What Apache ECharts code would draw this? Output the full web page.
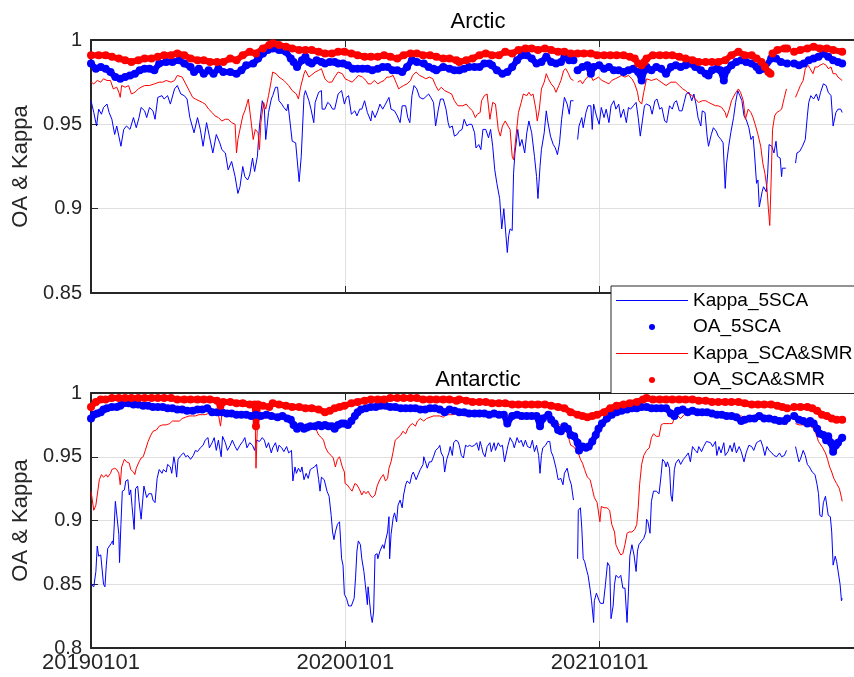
<!DOCTYPE html>
<html>
<head>
<meta charset="utf-8">
<script src="https://cdn.jsdelivr.net/npm/echarts@6/dist/echarts.min.js"></script>
<style>
html, body { margin: 0; padding: 0; background: #fff; }
#chart { width: 854px; height: 677px; }
</style>
</head>
<body>
<div id="chart"></div>
<script>
// x = days since 2019-01-01, y = score; '-' marks a break in the record
const tickDays = [0, 365, 731, 1096];
const tickLabels = ['20190101', '20200101', '20210101', '20220101'];
const panelTitles = ['Arctic', 'Antarctic'];
const seriesNames = ['Kappa_5SCA', 'OA_5SCA', 'Kappa_SCA&SMR', 'OA_SCA&SMR'];

// ---- Arctic ----
const arcKappa5SCA = [[0,.964],[4,.957],[8,.949],[11,.959],[15,.956],[18,.960],[23,.962],[26,.957],[30,.953],[34,.944],[37,.949],[40,.943],[43,.937],[47,.947],[51,.949],[56,.947],[61,.954],[65,.948],[69,.954],[72,.960],[77,.958],[80,.954],[84,.960],[89,.958],[92,.953],[96,.966],[102,.967],[105,.965],[110,.967],[114,.962],[120,.971],[124,.973],[129,.968],[134,.967],[138,.965],[142,.954],[148,.945],[153,.954],[157,.947],[161,.937],[166,.951],[170,.943],[175,.933],[180,.944],[185,.939],[188,.935],[193,.933],[197,.923],[202,.928],[207,.919],[211,.909],[214,.913],[218,.925],[221,.919],[225,.917],[228,.920],[232,.930],[235,.922],[239,.931],[242,.949],[246,.964],[249,.959],[251,.941],[255,.957],[259,.965],
[261,.967],[265,.972],[268,.972],[270,.964],[274,.962],[277,.960],[281,.958],[283,.962],[289,.940],[294,.939],[299,.916],[302,.931],[306,.967],[308,.970],[313,.964],[316,.959],[320,.951],[322,.963],[327,.969],[331,.970],[332,.959],[336,.959],[340,.963],[343,.962],[347,.959],[350,.959],[355,.968],[360,.970],[364,.962],[367,.966],[370,.967],[374,.956],[379,.958],[382,.955],[386,.959],[389,.959],[393,.964],[397,.957],[402,.952],[404,.958],[408,.954],[412,.958],[415,.962],[419,.959],[423,.962],[428,.966],[431,.959],[436,.958],[440,.955],[444,.951],[447,.961],[452,.961],[455,.954],[458,.951],[461,.967],[464,.973],[468,.971],[472,.966],[477,.965],[480,.966],[485,.968],[488,.966],[492,.963],[495,.949],[499,.959],[502,.965],[506,.965],[510,.959],[513,.951],[515,.948],[519,.949],[522,.943],[526,.944],
[529,.946],[533,.947],[536,.953],[540,.949],[543,.950],[547,.950],[551,.945],[553,.936],[557,.938],[560,.935],[563,.947],[567,.947],[571,.942],[574,.947],[577,.937],[580,.923],[583,.915],[587,.906],[590,.888],[593,.900],[595,.899],[598,.874],[600,.884],[602,.888],[605,.887],[607,.921],[609,.933],[613,.947],[616,.937],[619,.941],[623,.933],[626,.945],[629,.952],[633,.945],[637,.931],[640,.919],[642,.906],[645,.925],[647,.935],[651,.945],[654,.958],[656,.952],[660,.943],[664,.938],[667,.936],[670,.932],[673,.939],[676,.953],[680,.966],[684,.962],[687,.956],[689,.964],[693,.964],[696,'-'],[699,.941],[701,.949],[705,.954],[707,.948],[711,.957],[714,.961],[718,.961],[720,.947],[722,.962],[726,.955],[730,.950],[733,.960],[737,.954],[740,.959],[744,.951],[747,.961],[751,.964],[754,.959],[758,.962],[761,.954],[765,.959],[769,.951],[772,.960],[775,.959],[779,.961],[783,.963],[786,.954],[789,.943],[792,.952],[795,.961],
[798,.962],[803,.961],[806,.956],[810,.964],[813,.965],[817,.959],[820,.960],[824,.952],[827,.951],[831,.961],[835,.959],[838,.963],[841,.964],[845,.958],[849,.958],[852,.963],[855,.968],[859,.969],[863,.964],[866,.968],[869,.962],[872,.954],[876,.949],[878,.958],[882,.957],[885,.943],[887,.937],[891,.944],[894,.948],[898,.946],[901,.943],[905,.941],[908,.939],[911,.912],[913,.927],[916,.937],[919,.945],[923,.954],[926,.963],[929,.970],[932,.967],[935,.964],[938,.955],[941,.953],[945,.948],[948,.941],[951,.943],[953,.933],[956,.915],[958,.917],[960,.901],[964,.910],[966,.913],[970,.910],[972,.921],[974,.938],[978,.937],[981,.933],[984,.940],[986,.931],[990,.930],[992,.919],[993,.924],[998,.924],[1004,'-'],[1012,.927],[1014,.933],[1018,.934],[1022,.937],[1026,.941],[1029,.955],[1031,.963],[1034,.967],[1038,.965],[1042,.968],[1045,.964],[1048,.969],[1052,.974],[1056,.973],[1059,.969],[1063,.967],[1066,.949],[1070,.957],[1073,.959],[1077,.959],[1079,.957]];

const arcOA5SCA = [[0,.986],[7,.983],[14,.984],[21,.983],[28,.981],[35,.978],[42,.977],[49,.978],[56,.979],[63,.980],[70,.982],[77,.983],[84,.983],[91,.982],[98,.986],[108,.987],[117,.987],[127,.988],[134,.986],[143,.984],[148,.981],[155,.983],[162,.980],[169,.982],[176,.980],[183,.983],[190,.981],[200,.981],[209,.980],[216,.982],[223,.985],[233,.986],[240,.989],[247,.992],[254,.994],[261,.995],[270,.994],[280,.993],[287,.989],[291,.987],[296,.984],[303,.988],[308,.990],[313,.987],[317,.986],[324,.988],[331,.987],[336,.986],[343,.987],[350,.987],[355,.986],[362,.986],[369,.985],[376,.983],[383,.983],[390,.983],[397,.983],[404,.982],[412,.983],[419,.984],[426,.984],[433,.982],[440,.982],[447,.981],[454,.984],[461,.988],[468,.987],[478,.986],[485,.984],[492,.983],[496,.982],[506,.984],[515,.983],[522,.982],[529,.982],[536,.983],[543,.984],[551,.984],[558,.984],[565,.986],[572,.986],[576,.985],[583,.982],[591,.980],[598,.981],[605,.984],[612,.988],[619,.991],[626,.991],[633,.989],[640,.986],[647,.987],[654,.990],[661,.987],[668,.986],[675,.987],[680,.990],[687,.988],[693,.988],[696,'-'],[699,.982],[706,.984],[713,.985],[718,.980],[722,.984],[730,.985],[737,.983],[744,.984],[751,.982],[758,.982],[765,.981],[772,.982],[779,.983],[786,.981],[791,.976],[795,.982],[798,.984],[805,.982],[812,.984],[819,.983],[826,.980],[833,.984],[840,.985],[847,.984],[854,.985],[861,.986],[868,.984],[876,.982],[883,.980],[887,.979],[892,.982],[899,.983],[904,.982],[909,.976],[913,.982],[920,.985],[927,.987],[934,.988],[941,.987],[949,.986],[956,.984],[960,.982],[967,.983],[977,.989],[984,.989],[991,.987],[1000,.986],[1005,'-'],[1010,.986],[1017,.985],[1024,.986],[1031,.988],[1038,.989],[1045,.990],[1052,.992],[1059,.990],[1066,.988],[1073,.987],[1079,.986]];

const arcKappaSCASMR = [[0,.975],[4,.974],[9,.976],[14,.975],[18,.977],[23,.976],[28,.976],[32,.971],[37,.972],[40,.969],[42,.966],[44,.973],[49,.972],[54,.973],[58,.968],[63,.969],[68,.971],[72,.972],[77,.973],[84,.973],[91,.974],[98,.975],[103,.975],[108,.976],[115,.975],[120,.976],[124,.979],[131,.978],[136,.974],[141,.970],[146,.966],[150,.965],[155,.964],[160,.963],[164,.962],[169,.959],[174,.957],[178,.955],[183,.954],[188,.952],[193,.953],[197,.953],[202,.951],[207,.950],[209,.933],[211,.941],[214,.947],[218,.955],[221,.958],[226,.965],[229,.955],[233,.941],[236,.947],[240,.945],[242,.935],[244,.951],[248,.963],[251,.959],[255,.967],[259,.976],[261,.981],[266,.980],[270,.978],[277,.976],[284,.973],[289,.970],[295,.968],[298,.965],[301,.972],[306,.980],[308,.982],[313,.978],[316,.979],[322,.981],[327,.982],[331,.983],[336,.977],[341,.975],[346,.975],[350,.978],[355,.981],[361,.980],[365,.977],[370,.976],[375,.975],[380,.977],[384,.979],[390,.978],[395,.976],[398,.974],[402,.974],[407,.976],[412,.974],[416,.975],[421,.976],[425,.978],[429,.978],[434,.979],[439,.974],[442,.971],[445,.972],[449,.973],[454,.974],[459,.976],[462,.979],[467,.981],[472,.979],[477,.978],[481,.977],[486,.978],[491,.977],[495,.973],[499,.970],[503,.972],[508,.970],[513,.969],[518,.968],[522,.964],[527,.961],
[529,.962],[534,.961],[539,.962],[543,.960],[548,.958],[552,.954],[555,.956],[559,.957],[561,.964],[565,.967],[569,.968],[573,.953],[575,.952],[577,.963],[581,.962],[585,.947],[588,.943],[591,.949],[595,.952],[599,.949],[602,.947],[605,.931],[607,.929],[609,.937],[612,.949],[614,.957],[618,.963],[621,.968],[626,.967],[629,.969],[632,.967],[635,.968],[639,.959],[641,.952],[644,.959],[647,.971],[651,.975],[654,.980],[657,.977],[661,.974],[665,.972],[668,.969],[672,.973],[675,.976],[679,.982],[682,.983],[686,.980],[689,.977],[693,.976],[696,'-'],[699,.975],[703,.976],[706,.974],[709,.976],[713,.978],[718,.979],[721,.976],[725,.977],[729,.978],[734,.976],[739,.975],[744,.974],[748,.976],[753,.977],[758,.978],[762,.979],[767,.978],[772,.979],[777,.977],[781,.974],[785,.969],[787,.964],[791,.962],[794,.969],[798,.977],
[805,.976],[812,.977],[819,.975],[826,.973],[833,.975],[840,.975],[845,.973],[850,.971],[854,.970],[859,.968],[864,.967],[868,.965],[873,.963],[878,.964],[883,.964],[887,.963],[892,.962],[897,.961],[901,.961],[906,.960],[911,.957],[913,.954],[917,.959],[920,.964],[925,.968],[930,.971],[933,.969],[937,.964],[940,.953],[944,.959],[948,.957],[951,.954],[954,.950],[958,.944],[962,.937],[965,.927],[968,.921],[971,.912],[973,.900],[975,.890],[977,.917],[979,.947],[982,.955],[985,.957],[989,.958],[992,.959],[996,.966],[999,.971],[1005,'-'],[1012,.966],[1015,.969],[1019,.973],[1023,.976],[1026,.983],[1030,.985],[1033,.983],[1037,.980],[1040,.984],[1044,.984],[1047,.985],[1052,.986],[1056,.985],[1059,.983],[1063,.984],[1066,.980],[1070,.980],[1073,.978],[1079,.976]];

const arcOASCASMR = [[0,.991],[11,.991],[21,.991],[30,.990],[40,.989],[49,.988],[58,.987],[68,.988],[77,.989],[87,.989],[96,.990],[105,.991],[115,.991],[124,.992],[134,.991],[143,.989],[153,.988],[162,.988],[171,.987],[181,.987],[190,.987],[200,.989],[209,.988],[218,.991],[228,.993],[237,.992],[247,.995],[256,.997],[261,.998],[270,.997],[280,.996],[289,.995],[299,.994],[308,.994],[317,.994],[327,.993],[336,.992],[346,.992],[355,.993],[364,.993],[374,.992],[383,.991],[393,.990],[402,.990],[412,.990],[421,.991],[430,.990],[440,.989],[449,.991],[459,.992],[468,.992],[477,.991],[487,.991],[496,.990],[506,.989],[515,.989],[525,.988],[529,.987],[539,.988],[548,.989],[558,.991],[567,.992],[576,.991],[586,.991],[595,.993],[605,.992],[614,.994],[624,.995],[633,.995],[642,.994],[652,.995],[661,.994],[671,.993],[680,.993],[689,.992],[699,.992],[708,.992],[718,.992],[727,.991],[737,.991],[746,.991],[755,.991],[765,.991],[774,.990],[781,.989],[786,.986],[791,.985],[795,.987],[798,.989],[807,.991],[817,.991],[826,.991],[835,.991],[845,.990],[854,.989],[864,.988],[873,.987],[883,.987],[892,.987],[901,.987],[911,.988],[920,.991],[930,.993],[939,.991],[949,.991],[956,.989],[963,.987],[968,.984],[973,.981],[976,.980],[978,'-'],[979,.992],[986,.994],[996,.995],[1000,.995],[1005,'-'],[1010,.993],[1019,.994],[1029,.995],[1038,.996],[1047,.995],[1057,.995],[1066,.994],[1079,.993]];

// ---- Antarctic ----
const antKappa5SCA = [[0,.850],[4,.848],[7,.860],[9,.880],[11,.872],[14,.873],[16,.872],[18,.850],[20,.848],[22,.865],[24,.878],[26,.878],[29,.882],[31,.884],[32,.881],[35,.915],[37,.916],[40,.889],[41,.867],[43,.897],[45,.923],[48,.924],[50,.931],[53,.932],[55,.920],[57,.924],[59,.911],[62,.893],[64,.925],[67,.927],[69,.915],[72,.901],[73,.902],[76,.927],[80,.918],[83,.921],[87,.921],[89,.916],[92,.914],[95,.933],[98,.940],[102,.937],[104,.940],[108,.938],[110,.944],[114,.942],[116,.937],[119,.950],[121,.944],[123,.934],[125,.948],[129,.951],[133,.953],[136,.950],[139,.951],[143,.948],[147,.951],[150,.955],[153,.954],[157,.957],[161,.959],[164,.963],[168,.965],[170,.957],[174,.961],[177,.965],[180,.955],[183,.963],[187,.950],[189,.966],[193,.961],[196,.955],[200,.959],[203,.963],[207,.958],[210,.955],[214,.959],[218,.962],[221,.965],[224,.957],[228,.961],[232,.959],[235,.955],[238,.963],[242,.962],[246,.965],[249,.963],[252,.957],[255,.961],[259,.953],
[261,.957],[265,.961],[268,.954],[270,.959],[274,.957],[277,.954],[281,.958],[284,.953],[288,.955],[290,.931],[293,.942],[295,.937],[298,.941],[301,.938],[303,.942],[306,.932],[309,.937],[312,.933],[315,.940],[318,.941],[321,.942],[324,.944],[327,.932],[329,.923],[331,.934],[335,.932],[339,.923],[342,.919],[345,.904],[347,.891],[349,.885],[351,.891],[354,.897],[357,.899],[360,.870],[362,.865],[364,.842],[367,.839],[370,.833],[374,.833],[378,.839],[380,.855],[382,.876],[384,.884],[387,.881],[389,.870],[392,.860],[394,.850],[397,.834],[398,.848],[400,.848],[402,.826],[404,.820],[406,.829],[408,.873],[411,.874],[412,.870],[415,.876],[419,.881],[421,.878],[423,.884],[426,.891],[428,.903],[429,.870],[431,.889],[434,.902],[436,.906],[439,.899],[441,.912],[444,.916],[447,.910],[449,.920],[452,.928],[454,.931],[458,.929],[461,.936],[463,.938],[467,.932],[470,.936],[473,.940],[477,.944],[478,.950],[481,.945],[483,.941],[486,.946],[489,.946],[492,.950],[495,.955],[499,.957],[501,.959],[503,.953],[506,.950],[508,.938],[511,.948],[514,.953],[516,.958],[519,.951],[521,.961],[524,.963],[527,.962],
[529,.959],[532,.951],[535,.949],[538,.959],[541,.958],[544,.959],[547,.958],[551,.959],[554,.961],[557,.955],[559,.962],[561,.958],[563,.953],[566,.950],[569,.958],[573,.961],[575,.954],[579,.961],[581,.955],[585,.961],[588,.958],[591,.959],[594,.946],[596,.945],[599,.959],[602,.965],[606,.961],[608,.957],[612,.965],[615,.961],[618,.963],[621,.958],[624,.963],[627,.958],[631,.957],[634,.963],[637,.954],[640,.959],[643,.951],[645,.937],[647,.951],[649,.957],[653,.959],[656,.962],[659,.962],[661,.954],[664,.950],[666,.949],[668,.941],[671,.932],[673,.931],[675,.933],[678,.928],[680,.937],[684,.941],[687,.933],[690,.928],[693,.916],[696,'-'],[699,.870],[700,.908],[703,.910],[705,.894],[707,.870],[709,.868],[712,.861],[714,.857],[717,.846],[719,.837],[722,.820],[723,.837],[726,.843],[730,.837],[732,.835],[736,.835],[739,.850],[742,.867],[745,.864],[747,.823],[750,.833],[752,.850],[754,.857],[758,.855],[761,.857],[764,.847],[767,.847],[770,.820],[772,.844],[774,.872],[777,.881],[780,.873],[783,.860],[785,.876],[787,.881],[791,.884],[794,.886],[797,.891],
[798,.901],[800,.899],[803,.890],[805,.915],[808,.923],[812,.923],[816,.921],[819,.936],[821,.948],[824,.946],[826,.942],[828,.946],[831,.941],[833,.920],[835,.915],[838,.940],[840,.945],[844,.948],[847,.944],[851,.948],[854,.950],[858,.953],[861,.946],[864,.958],[868,.955],[871,.953],[873,.958],[877,.954],[880,.958],[884,.962],[886,.963],[890,.961],[893,.958],[897,.962],[899,.951],[902,.958],[905,.953],[909,.961],[911,.951],[915,.954],[918,.959],[921,.954],[924,.961],[927,.953],[931,.958],[934,.954],[938,.946],[941,.953],[945,.959],[949,.958],[952,.955],[956,.961],[959,.962],[962,.963],[965,.958],[968,.951],[971,.958],[974,.955],[978,.953],[981,.951],[985,.950],[989,.953],[992,.950],[996,.951],[999,.955],[1005,'-'],[1012,.958],[1014,.953],[1017,.946],[1019,.948],[1023,.955],[1026,.951],[1029,.944],[1032,.942],[1036,.938],[1038,.937],[1040,.936],[1043,.928],[1045,.921],[1047,.904],[1050,.903],[1052,.914],[1055,.919],[1057,.918],[1059,.904],[1062,.903],[1064,.891],[1066,.865],[1069,.872],[1071,.868],[1073,.867],[1076,.850],[1078,.837],[1079,.839]];

const antOA5SCA = [[0,.980],[4,.983],[9,.984],[14,.985],[18,.987],[23,.988],[30,.989],[37,.989],[42,.990],[47,.992],[54,.992],[61,.991],[68,.991],[75,.990],[82,.990],[89,.989],[96,.989],[103,.989],[110,.988],[117,.988],[124,.987],[131,.987],[138,.986],[146,.986],[153,.987],[160,.987],[167,.988],[174,.985],[181,.985],[188,.985],[195,.984],[202,.984],[209,.983],[216,.983],[223,.983],[230,.982],[237,.983],[244,.982],[252,.983],[259,.982],[268,.981],[275,.982],[282,.980],[287,.979],[291,.975],[296,.972],[301,.974],[306,.972],[310,.973],[315,.974],[322,.974],[327,.975],[331,.974],[336,.975],[341,.974],[346,.974],[350,.972],[355,.975],[360,.976],[364,.976],[369,.975],[374,.978],[379,.982],[383,.985],[388,.987],[395,.988],[402,.989],[409,.989],[416,.990],[423,.990],[430,.989],[437,.989],[445,.988],[452,.988],[459,.988],[466,.988],[473,.987],[480,.987],[487,.988],[494,.988],[501,.987],[508,.985],[515,.987],[522,.986],[529,.985],[536,.985],[543,.984],[551,.984],[558,.984],[565,.984],[572,.983],[579,.984],[586,.983],[593,.983],[598,.976],[605,.982],[612,.983],[619,.982],[626,.982],[633,.982],[640,.982],[645,.974],[649,.980],[657,.983],[661,.979],[666,.976],[671,.971],[675,.970],[680,.974],[685,.972],[689,.967],[694,.966],[699,.961],[701,.955],[706,.958],[711,.957],[715,.958],[720,.962],[725,.967],[729,.972],[734,.976],[741,.980],[748,.983],[755,.985],[762,.986],[770,.987],[777,.988],[784,.988],[791,.989],[798,.989],[805,.988],[812,.988],[819,.988],[826,.988],[833,.984],[838,.982],[843,.986],[850,.987],[857,.985],[864,.986],[871,.985],[878,.985],[885,.985],[892,.984],[899,.983],[906,.983],[913,.982],[920,.982],[927,.981],[934,.978],[939,.979],[946,.980],[953,.980],[960,.982],[967,.980],[974,.980],[982,.979],[989,.978],[996,.978],[1000,.980],[1005,'-'],[1010,.982],[1017,.979],[1023,.978],[1029,.976],[1033,.978],[1038,.976],[1043,.972],[1047,.968],[1052,.967],[1056,.963],[1059,.966],[1063,.961],[1066,.954],[1070,.959],[1073,.961],[1079,.965]];

const antKappaSCASMR = [[0,.923],[4,.908],[7,.912],[9,.920],[12,.932],[15,.936],[18,.934],[22,.936],[24,.934],[28,.937],[30,.940],[34,.941],[37,.940],[40,.937],[42,.928],[44,.942],[48,.948],[51,.946],[55,.945],[57,.940],[61,.938],[63,.936],[65,.941],[69,.946],[72,.949],[75,.950],[78,.955],[82,.962],[86,.967],[89,.970],[94,.971],[98,.974],[103,.975],[108,.975],[113,.976],[117,.978],[122,.978],[127,.978],[131,.980],[136,.981],[141,.982],[146,.982],[150,.982],[155,.983],[160,.983],[164,.983],[169,.984],[174,.984],[179,.984],[183,.983],[186,.974],[188,.983],[193,.982],[200,.982],[207,.982],[214,.982],[221,.982],[228,.982],[235,.981],[236,.975],[237,.941],[239,.975],[242,.980],[249,.980],[256,.982],
[261,.980],[268,.979],[275,.980],[282,.979],[289,.978],[294,.975],[299,.974],[303,.972],[308,.974],[313,.974],[316,.971],[320,.975],[323,.972],[327,.967],[331,.965],[334,.963],[337,.957],[341,.953],[345,.951],[348,.949],[351,.942],[354,.948],[357,.950],[361,.942],[364,.938],[365,.929],[368,.928],[372,.925],[375,.923],[379,.929],[382,.928],[386,.924],[389,.920],[392,.923],[395,.921],[398,.923],[401,.920],[404,.918],[408,.920],[411,.927],[414,.931],[417,.934],[420,.936],[423,.931],[426,.933],[428,.941],[431,.946],[434,.954],[437,.963],[441,.965],[445,.967],[448,.970],[452,.968],[455,.972],[459,.975],[462,.976],[466,.974],[469,.978],[473,.980],[478,.978],[482,.980],[487,.981],[492,.982],[496,.982],[501,.982],[506,.981],[510,.983],[515,.983],[520,.983],[525,.984],
[529,.983],[539,.982],[548,.983],[558,.983],[567,.983],[576,.982],[586,.982],[595,.983],[605,.980],[612,.982],[616,.979],[621,.982],[626,.980],[631,.980],[635,.980],[640,.983],[645,.980],[649,.982],[654,.980],[659,.981],[664,.980],[668,.978],[673,.975],[678,.974],[681,.974],[685,.968],[687,.963],[689,.959],[693,.958],[697,.955],[700,.953],[703,.948],[706,.945],[709,.940],[713,.934],[717,.932],[720,.925],[723,.918],[727,.914],[731,.899],[733,.911],[737,.910],[741,.910],[745,.908],[748,.897],[752,.891],[754,.881],[758,.876],[761,.873],[764,.874],[767,.881],[770,.890],[773,.891],[777,.891],[781,.893],[784,.897],[786,.910],[788,.928],[791,.944],[794,.951],[798,.955],
[802,.957],[805,.965],[808,.968],[812,.966],[816,.966],[819,.975],[822,.976],[826,.976],[831,.976],[835,.976],[838,.980],[843,.982],[847,.980],[852,.983],[857,.984],[864,.984],[871,.983],[878,.983],[885,.983],[892,.983],[899,.982],[906,.982],[913,.982],[920,.982],[927,.982],[934,.982],[941,.980],[949,.982],[956,.982],[963,.983],[970,.982],[977,.980],[984,.980],[991,.979],[996,.978],[999,.975],[1005,'-'],[1012,.976],[1017,.975],[1023,.975],[1029,.975],[1033,.974],[1038,.972],[1042,.967],[1045,.962],[1047,.961],[1051,.957],[1055,.953],[1058,.948],[1061,.942],[1064,.938],[1067,.933],[1071,.929],[1075,.925],[1078,.918],[1079,.915]];

const antOASCASMR = [[0,.989],[7,.993],[14,.995],[21,.995],[30,.996],[40,.996],[49,.996],[58,.996],[68,.996],[77,.996],[87,.996],[96,.996],[105,.996],[115,.996],[124,.995],[134,.995],[143,.995],[153,.995],[162,.995],[171,.995],[181,.994],[186,.990],[190,.993],[200,.993],[209,.992],[218,.992],[228,.991],[235,.991],[237,.974],[240,.991],[247,.990],[256,.989],[261,.992],[270,.991],[280,.990],[289,.989],[299,.989],[308,.988],[317,.988],[327,.987],[336,.985],[343,.986],[350,.988],[357,.989],[364,.990],[374,.992],[383,.993],[393,.994],[402,.995],[412,.995],[421,.995],[430,.996],[440,.996],[449,.996],[459,.996],[468,.996],[477,.995],[487,.995],[496,.995],[506,.995],[515,.995],[525,.994],[529,.995],[539,.994],[548,.993],[558,.993],[567,.993],[576,.992],[586,.992],[595,.992],[605,.991],[614,.991],[624,.991],[633,.991],[642,.991],[652,.991],[661,.990],[671,.989],[680,.988],[689,.985],[699,.983],[706,.982],[713,.981],[720,.982],[727,.983],[737,.985],[746,.988],[755,.990],[765,.991],[774,.992],[784,.993],[793,.995],[798,.996],[807,.995],[817,.995],[826,.995],[835,.995],[845,.995],[854,.995],[864,.995],[873,.994],[883,.994],[892,.993],[901,.993],[911,.993],[920,.993],[930,.993],[939,.992],[949,.991],[958,.991],[967,.991],[977,.991],[986,.990],[993,.989],[1000,.988],[1005,'-'],[1010,.989],[1019,.989],[1029,.989],[1036,.988],[1043,.986],[1050,.983],[1057,.982],[1064,.980],[1071,.979],[1079,.979]];

const FONT = '"Liberation Sans", Arial, Helvetica, sans-serif';
const INK = '#262626';
const GRIDLINE = '#dfdfdf';
const BLUE = '#0000ff';
const RED = '#ff0000';
// thin bar used as the legend key of the Kappa lines
const LINE_KEY = 'path://M0,0H72V1H0Z';

// label for the tick closest to a given day
function dayLabel(v) {
    for (let i = 0; i < tickDays.length; i++) {
        if (Math.abs(tickDays[i] - v) < 1) return tickLabels[i];
    }
    return '';
}

function xAxisFor(gridIndex, position, showLabels) {
    return {
        type: 'value',
        gridIndex: gridIndex,
        position: position,
        min: 0,
        max: 1096,
        interval: 1096 / 3,
        axisLine: { show: true, onZero: false, lineStyle: { color: INK, width: 2 } },
        axisTick: { show: true, inside: true, length: 7, lineStyle: { color: INK, width: 1 } },
        axisLabel: {
            show: showLabels, margin: 4, color: INK, fontSize: 22, fontFamily: FONT,
            formatter: dayLabel, showMaxLabel: false
        },
        splitLine: { show: position === 'bottom', lineStyle: { color: GRIDLINE, width: 1 } }
    };
}

function yAxisFor(gridIndex, min) {
    return {
        type: 'value',
        gridIndex: gridIndex,
        min: min,
        max: 1,
        interval: 0.05,
        name: 'OA & Kappa',
        nameLocation: 'middle',
        nameGap: 46,
        nameTextStyle: { fontSize: 22, color: INK, fontFamily: FONT },
        axisLine: { show: true, lineStyle: { color: INK, width: 2 } },
        axisTick: { show: true, inside: true, length: 7, lineStyle: { color: INK, width: 1 } },
        axisLabel: { margin: 9, color: INK, fontSize: 20, fontFamily: FONT },
        splitLine: { show: true, lineStyle: { color: GRIDLINE, width: 1 } }
    };
}

function kappaLine(name, data, color, gridIndex) {
    return {
        name: name, type: 'line', xAxisIndex: gridIndex * 2, yAxisIndex: gridIndex,
        data: data, symbol: 'none', showSymbol: false,
        lineStyle: { color: color, width: 1 }, itemStyle: { color: color }
    };
}

// the OA dots are dense daily markers: a thick trace with round dots on it
function oaBand(name, data, color, gridIndex) {
    return {
        name: name, type: 'line', xAxisIndex: gridIndex * 2, yAxisIndex: gridIndex,
        data: data, symbol: 'circle', symbolSize: 8, showSymbol: true,
        lineStyle: { color: color, width: 6, cap: 'round', join: 'round' },
        itemStyle: { color: color, borderWidth: 0 }
    };
}

const chart = echarts.init(document.getElementById('chart'));

chart.setOption({
    animation: false,
    backgroundColor: '#fff',
    title: [
        { text: panelTitles[0], left: 473, top: 6, textAlign: 'center',
          textStyle: { fontSize: 22, fontWeight: 'normal', color: '#000', fontFamily: FONT } },
        { text: panelTitles[1], left: 473, top: 364, textAlign: 'center',
          textStyle: { fontSize: 22, fontWeight: 'normal', color: '#000', fontFamily: FONT } }
    ],
    legend: {
        orient: 'vertical',
        left: 611,
        top: 286,
        padding: [5, 30, 4, 5],
        itemWidth: 72,
        itemHeight: 6,
        itemGap: 7.5,
        backgroundColor: '#fff',
        borderColor: INK,
        borderWidth: 1,
        borderRadius: 0,
        textStyle: { fontSize: 19, color: '#000', fontFamily: FONT },
        data: [
            { name: seriesNames[0], icon: LINE_KEY },
            { name: seriesNames[1], icon: 'circle' },
            { name: seriesNames[2], icon: LINE_KEY },
            { name: seriesNames[3], icon: 'circle' }
        ]
    },
    grid: [
        { left: 91, right: -12, top: 40, height: 253 },
        { left: 91, right: -12, top: 393, height: 255 }
    ],
    xAxis: [
        xAxisFor(0, 'bottom', false),
        xAxisFor(0, 'top', false),
        xAxisFor(1, 'bottom', true),
        xAxisFor(1, 'top', false)
    ],
    yAxis: [
        yAxisFor(0, 0.85),
        yAxisFor(1, 0.8)
    ],
    series: [
        kappaLine(seriesNames[0], arcKappa5SCA, BLUE, 0),
        oaBand(seriesNames[1], arcOA5SCA, BLUE, 0),
        kappaLine(seriesNames[2], arcKappaSCASMR, RED, 0),
        oaBand(seriesNames[3], arcOASCASMR, RED, 0),
        kappaLine(seriesNames[0], antKappa5SCA, BLUE, 1),
        oaBand(seriesNames[1], antOA5SCA, BLUE, 1),
        kappaLine(seriesNames[2], antKappaSCASMR, RED, 1),
        oaBand(seriesNames[3], antOASCASMR, RED, 1)
    ]
});
</script>
</body>
</html>
